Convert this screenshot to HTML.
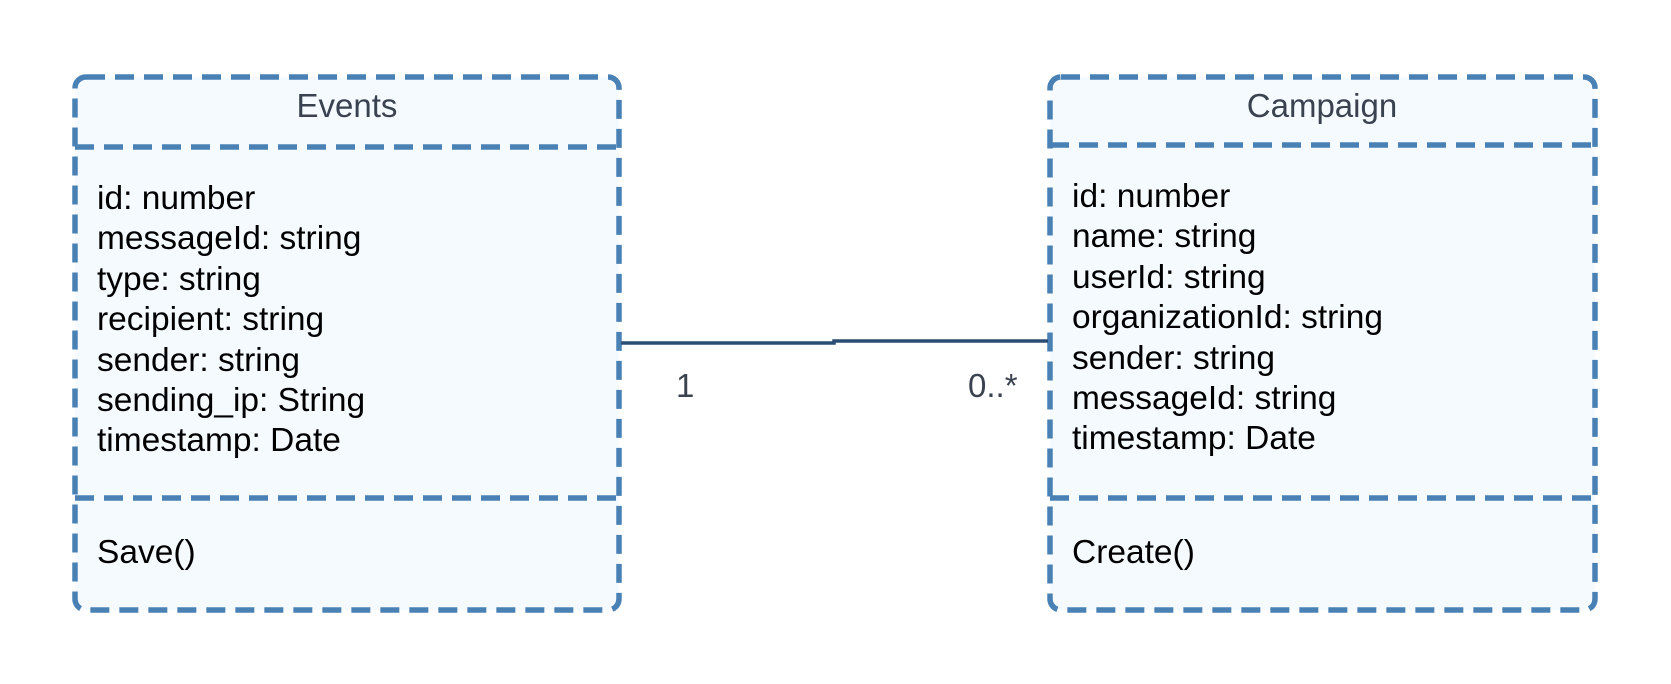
<!DOCTYPE html>
<html><head><meta charset="utf-8"><style>
html,body{margin:0;padding:0;background:#fff;}
svg{display:block}
text{font-family:"Liberation Sans",Arial,sans-serif;}
</style></head><body>
<svg width="1671" height="684" viewBox="0 0 1671 684" xmlns="http://www.w3.org/2000/svg">
<g fill="#f5faff" stroke="#4a81b5" stroke-width="5.5" stroke-dasharray="19 10">
<rect x="75" y="77" width="544" height="533" rx="11"/>
<rect x="1050" y="77" width="545" height="533" rx="11"/>
</g>
<g stroke="#4a81b5" stroke-width="5.5" stroke-dasharray="19 10">
<line x1="75" y1="147" x2="619" y2="147"/>
<line x1="75" y1="498" x2="619" y2="498"/>
<line x1="1050" y1="145" x2="1595" y2="145"/>
<line x1="1050" y1="498" x2="1595" y2="498"/>
</g>
<g stroke="#2a4d73" stroke-width="3.5" fill="none">
<polyline points="621,343 834,343 834,341 1048,341"/>
</g>
<g font-size="33" fill="#3a4250" text-anchor="middle">
<text x="347" y="117">Events</text>
<text x="1322" y="117">Campaign</text>
</g>
<g font-size="33" fill="#3a4250">
<text x="676" y="397">1</text>
<text x="968" y="397">0..*</text>
</g>
<g font-size="33.5" fill="#000">
<text x="97" y="209">id: number</text>
<text x="97" y="249">messageId: string</text>
<text x="97" y="290">type: string</text>
<text x="97" y="330">recipient: string</text>
<text x="97" y="371">sender: string</text>
<text x="97" y="411">sending_ip: String</text>
<text x="97" y="451">timestamp: Date</text>
<text x="97" y="563">Save()</text>
<text x="1072" y="207">id: number</text>
<text x="1072" y="247">name: string</text>
<text x="1072" y="288">userId: string</text>
<text x="1072" y="328">organizationId: string</text>
<text x="1072" y="369">sender: string</text>
<text x="1072" y="409">messageId: string</text>
<text x="1072" y="449">timestamp: Date</text>
<text x="1072" y="563">Create()</text>
</g>
</svg>
</body></html>
